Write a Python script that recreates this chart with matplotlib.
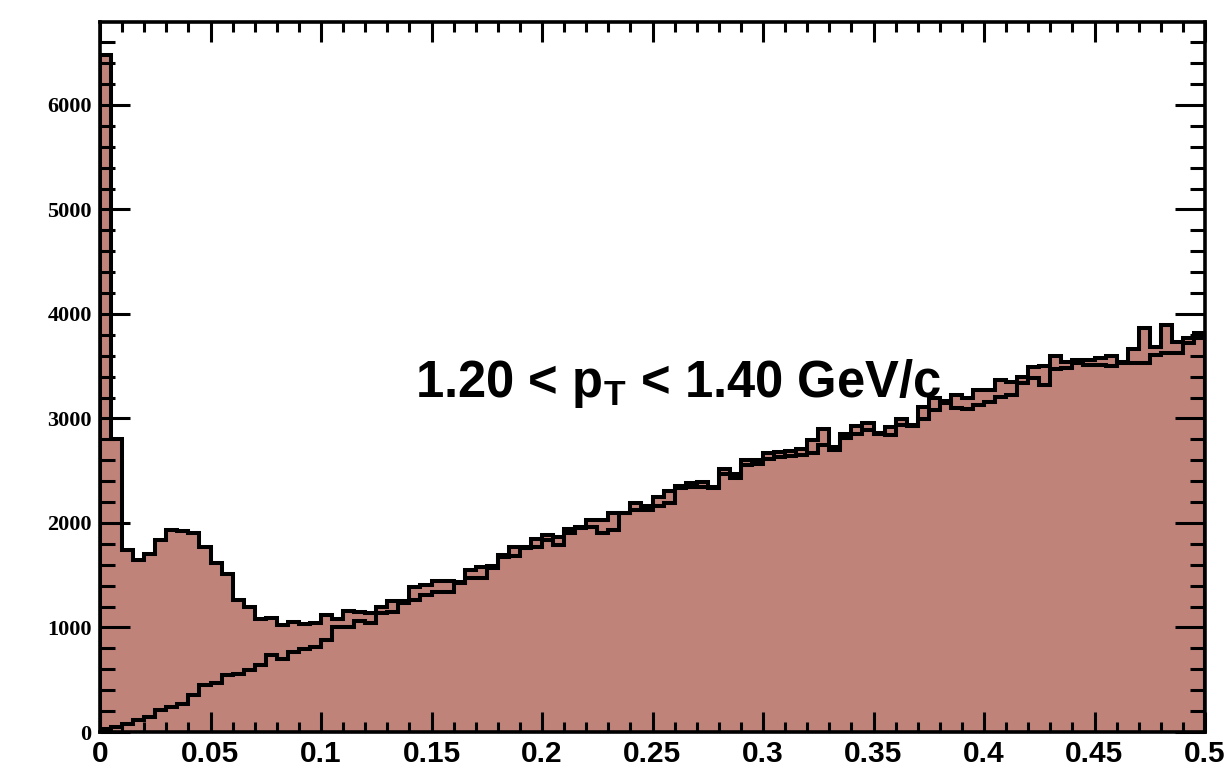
"""Two overlaid pair-distance histograms, ROOT style, for one pT bin."""
import numpy as np
import matplotlib
matplotlib.use('Agg')
import matplotlib.pyplot as plt

# Histogram settings
x_min, x_max = 0.0, 0.5
n_bins = 100

# Same-event counts (with the peak near zero)
same_counts = [
    6480, 2800, 1745, 1650, 1700, 1840, 1935, 1925, 1900, 1775,
    1620, 1510, 1265, 1200, 1085, 1095, 1020, 1050, 1035, 1040,
    1120, 1078, 1161, 1151, 1135, 1199, 1257, 1257, 1391, 1407,
    1448, 1448, 1439, 1550, 1576, 1589, 1694, 1774, 1774, 1844,
    1885, 1870, 1942, 1965, 2028, 2028, 2099, 2099, 2188, 2162,
    2245, 2309, 2354, 2380, 2396, 2348, 2514, 2469, 2603, 2603,
    2673, 2683, 2692, 2705, 2794, 2896, 2724, 2852, 2928, 2954,
    2857, 2922, 2999, 2940, 3107, 3193, 3170, 3225, 3193, 3273,
    3273, 3368, 3352, 3400, 3496, 3502, 3600, 3543, 3559, 3560,
    3575, 3598, 3543, 3662, 3863, 3687, 3895, 3735, 3767, 3815,
]

# Mixed-event counts (smooth rise from zero)
mixed_counts = [
    32, 48, 80, 112, 144, 207, 239, 271, 351, 447,
    469, 542, 558, 597, 638, 734, 702, 766, 798, 813,
    877, 1002, 1002, 1065, 1046, 1135, 1151, 1231, 1263, 1311,
    1343, 1343, 1430, 1470, 1470, 1566, 1678, 1684, 1760, 1774,
    1837, 1789, 1901, 1949, 1965, 1907, 1933, 2093, 2124, 2124,
    2162, 2195, 2332, 2342, 2348, 2332, 2469, 2428, 2555, 2564,
    2610, 2628, 2641, 2651, 2667, 2746, 2699, 2810, 2852, 2890,
    2851, 2842, 2937, 2925, 2999, 3081, 3150, 3097, 3088, 3129,
    3161, 3209, 3225, 3336, 3384, 3320, 3470, 3480, 3527, 3512,
    3512, 3502, 3535, 3527, 3527, 3608, 3624, 3624, 3719, 3767,
]

x_ticks = [0, 0.05, 0.1, 0.15, 0.2, 0.25, 0.3, 0.35, 0.4, 0.45, 0.5]
x_tick_labels = ['0', '0.05', '0.1', '0.15', '0.2', '0.25', '0.3',
                 '0.35', '0.4', '0.45', '0.5']
y_ticks = [0, 1000, 2000, 3000, 4000, 5000, 6000]
y_tick_labels = ['0', '1000', '2000', '3000', '4000', '5000', '6000']
label_text = r'1.20 < p$_{\mathbf{T}}$ < 1.40 GeV/c'

fill_color = '#c0837a'

plt.rcParams['mathtext.fontset'] = 'custom'
plt.rcParams['mathtext.rm'] = 'Liberation Sans:bold'
plt.rcParams['mathtext.bf'] = 'Liberation Sans:bold'
plt.rcParams['mathtext.it'] = 'Liberation Sans:bold'

edges = np.linspace(x_min, x_max, n_bins + 1)

fig = plt.figure(figsize=(12.29, 7.69), dpi=100)
ax = fig.add_axes([100 / 1229, 37 / 769, 1105 / 1229, 710 / 769])

# Fills first, then both outlines on top
ax.stairs(same_counts, edges, fill=True, color=fill_color, lw=0)
ax.stairs(mixed_counts, edges, fill=True, color=fill_color, lw=0)
ax.stairs(same_counts, edges, color='black', lw=2.9)
ax.stairs(mixed_counts, edges, color='black', lw=2.9)

ax.set_xlim(x_min, x_max)
ax.set_ylim(0, 6794)

ax.set_xticks(x_ticks)
ax.set_xticklabels(x_tick_labels, fontfamily='Liberation Sans',
                   fontweight='bold', fontsize=21.5)
ax.set_xticks(np.arange(0, 0.5001, 0.01), minor=True)
ax.set_yticks(y_ticks)
ax.set_yticklabels(y_tick_labels, fontfamily='Liberation Serif',
                   fontweight='bold', fontsize=16)
ax.set_yticks(np.arange(0, 6794, 200), minor=True)

ax.tick_params(axis='x', which='major', direction='in', length=14.5,
               width=2.2, top=True, pad=6)
ax.tick_params(axis='x', which='minor', direction='in', length=7.5,
               width=2.2, top=True)
ax.tick_params(axis='y', which='major', direction='in', length=21.5,
               width=2.2, right=True, pad=6)
ax.tick_params(axis='y', which='minor', direction='in', length=10.5,
               width=2.2, right=True)

for spine in ax.spines.values():
    spine.set_linewidth(2.6)

ax.text(0.1425, 3206, label_text, fontfamily='Liberation Sans',
        fontweight='bold', fontsize=36.5, ha='left', va='baseline')

fig.savefig('out.png', dpi=100)
